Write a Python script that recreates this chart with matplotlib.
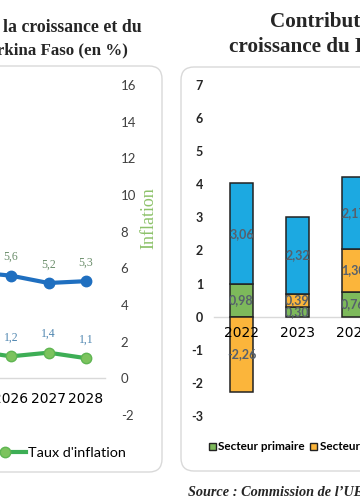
import numpy as np
import matplotlib
matplotlib.use("Agg")
import matplotlib.pyplot as plt
from matplotlib.patches import FancyBboxPatch, Patch
from matplotlib.lines import Line2D

# ---------------- data ----------------
# left chart (growth & inflation, Burkina Faso)
years_left = ["2025", "2026", "2027", "2028"]
growth = [5.8, 5.6, 5.2, 5.3]
inflation = [1.5, 1.2, 1.4, 1.1]
left_yticks = [-2, 0, 2, 4, 6, 8, 10, 12, 14, 16]

# right chart (sector contributions)
years_right = ["2022", "2023", "2024"]
primaire = [0.98, 0.30, 0.76]
secondaire = [-2.26, 0.39, 1.30]
tertiaire = [3.06, 2.32, 2.17]
sector_names = ["Secteur primaire", "Secteur secondaire", "Secteur tertiaire"]
right_yticks = [-3, -2, -1, 0, 1, 2, 3, 4, 5, 6, 7]

W, H = 360, 504
fig = plt.figure(figsize=(W / 100, H / 100), dpi=100)
fig.patch.set_facecolor("white")

SANS = ["Lato", "DejaVu Sans"]
SERIF = ["Liberation Serif", "DejaVu Serif"]


def ax_rect(x0, y0, x1, y1):
    return [x0 / W, 1 - y1 / H, (x1 - x0) / W, (y1 - y0) / H]


# ---------------- panel boxes ----------------
for (x0, y0, x1, y1) in [(-30, 66, 162, 472), (181, 67, 400, 471)]:
    fig.patches.append(FancyBboxPatch(
        (x0 / 100, (H - y1) / 100), (x1 - x0) / 100, (y1 - y0) / 100,
        boxstyle="round,pad=0,rounding_size=0.13",
        transform=fig.dpi_scale_trans, facecolor="white",
        edgecolor="#D9D9D9", linewidth=1.0, zorder=-10))

# ---------------- titles ----------------
fig.text(142 / W, 1 - 28 / H, "la croissance et du", ha="right", va="center",
         family=SERIF, weight="bold", fontsize=12.8, color="#262626")
fig.text(128 / W, 1 - 50 / H, "Burkina Faso (en %)", ha="right", va="center",
         family=SERIF, weight="bold", fontsize=12.2, color="#262626")
fig.text(270 / W, 1 - 22 / H, "Contribution", ha="left", va="center",
         family=SERIF, weight="bold", fontsize=15.2, color="#262626")
fig.text(229 / W, 1 - 47 / H, "croissance du PIB", ha="left", va="center",
         family=SERIF, weight="bold", fontsize=15.2, color="#262626")
fig.text(188 / W, 1 - 493 / H, "Source : Commission de l\u2019UEMOA", ha="left",
         va="center", family=SERIF, weight="bold", style="italic",
         fontsize=10.3, color="#262626")

# ---------------- left chart ----------------
ax1 = fig.add_axes(ax_rect(-45.25, 85, 104.75, 415))
ax1.set_facecolor("none")
xl = np.arange(len(years_left))
blue = "#1F6FC0"
green = "#3DAE55"
ax1.plot(xl, growth, color=blue, lw=3, marker="o", ms=7.5,
         markerfacecolor=blue, markeredgecolor=blue, zorder=3)
ax1.plot(xl, inflation, color=green, lw=3, marker="o", ms=7.5,
         markerfacecolor="#7CC35E", markeredgecolor="#5FB552", zorder=3,
         label="Taux d'inflation")
for i, v in enumerate(growth):
    ax1.annotate(f"{v:.1f}".replace(".", ","), (xl[i], v), xytext=(0, 13.5),
                 textcoords="offset points", ha="center", va="center",
                 family=SERIF, fontsize=8.5, color="#6B8E6B")
for i, v in enumerate(inflation):
    ax1.annotate(f"{v:.1f}".replace(".", ","), (xl[i], v), xytext=(0, 13.5),
                 textcoords="offset points", ha="center", va="center",
                 family=SERIF, fontsize=8.5, color="#4F86B0")
ax1.set_xlim(-0.5, len(years_left) - 0.5)
ax1.set_ylim(-2, 16)
ax1.set_xticks(xl)
ax1.set_xticklabels(years_left, family=SANS, fontsize=9.3, color="#595959")
ax1.set_yticks(left_yticks)
ax1.set_yticklabels([str(t) for t in left_yticks], family=SANS, fontsize=9.5,
                    color="#404040")
ax1.yaxis.tick_right()
ax1.tick_params(axis="y", length=0, pad=11.5)
ax1.tick_params(axis="x", length=0, pad=9.5)
for s in ["top", "left", "right"]:
    ax1.spines[s].set_visible(False)
ax1.spines["bottom"].set_position(("data", 0))
ax1.spines["bottom"].set_color("#D9D9D9")
ax1.spines["bottom"].set_linewidth(1)
ax1.text((149 + 45.25) / 150, (415 - 218) / 330, "Inflation", rotation=90,
         transform=ax1.transAxes, ha="center", va="center", family=SERIF,
         fontsize=13, color="#8DC26A")
leg_handle = Line2D([], [], color=green, lw=3, marker="o", ms=7.5,
                    markerfacecolor="#7CC35E", markeredgecolor="#5FB552")
fig.legend(handles=[leg_handle], labels=["Taux d'inflation"],
           loc="center left", bbox_to_anchor=(-17 / W, 1 - 453 / H),
           frameon=False, borderpad=0, borderaxespad=0, handlelength=3.0,
           handletextpad=0.12, prop={"family": SANS, "size": 10.4})

# ---------------- right chart ----------------
ax2 = fig.add_axes(ax_rect(213.5, 85, 381.5, 416))
ax2.set_facecolor("none")
xr = np.arange(len(years_right))
series = [primaire, secondaire, tertiaire]
colors = ["#7DB95B", "#FBB53B", "#1CA9E1"]
pos_base = np.zeros(len(xr))
neg_base = np.zeros(len(xr))
for vals, col, name in zip(series, colors, sector_names):
    vals = np.array(vals)
    bottoms = np.where(vals >= 0, pos_base, neg_base)
    cont = ax2.bar(xr, vals, bottom=bottoms, width=0.41, color=col,
                   edgecolor="#222222", linewidth=1.1, label=name, zorder=1.2)
    ax2.bar_label(cont, labels=[f"{v:.2f}".replace(".", ",") for v in vals],
                  label_type="center", family=SANS, weight="bold",
                  fontsize=9, color="#56606C", zorder=4)
    pos_base = pos_base + np.where(vals >= 0, vals, 0)
    neg_base = neg_base + np.where(vals < 0, vals, 0)

ax2.set_xlim(-0.5, len(years_right) - 0.5)
ax2.set_ylim(-3, 7)
ax2.set_xticks(xr)
ax2.set_xticklabels(years_right, family=SANS, fontsize=7.8, color="#404040")
ax2.set_yticks(right_yticks)
ax2.set_yticklabels([str(t) for t in right_yticks], family=SANS,
                    weight="bold", fontsize=9, color="#262626")
ax2.tick_params(axis="y", length=0, pad=7.5)
ax2.tick_params(axis="x", length=0, pad=7)
ax2.xaxis.set_zorder(3)
for s in ["top", "left", "right"]:
    ax2.spines[s].set_visible(False)
ax2.spines["bottom"].set_position(("data", 0))
ax2.spines["bottom"].set_color("#D9D9D9")
ax2.spines["bottom"].set_linewidth(1)
ax2.spines["bottom"].set_zorder(1)

handles = [Patch(facecolor=c, edgecolor="#222222", linewidth=1.0)
           for c in colors]
fig.legend(handles=handles, labels=sector_names, loc="center left",
           bbox_to_anchor=(209 / W, 1 - 447 / H), ncol=3, frameon=False,
           borderpad=0, borderaxespad=0, handlelength=0.6, handleheight=0.6,
           handletextpad=0.2, columnspacing=0.45,
           prop={"family": SANS, "weight": "bold", "size": 8.5})

fig.savefig("out.png", dpi=100)
